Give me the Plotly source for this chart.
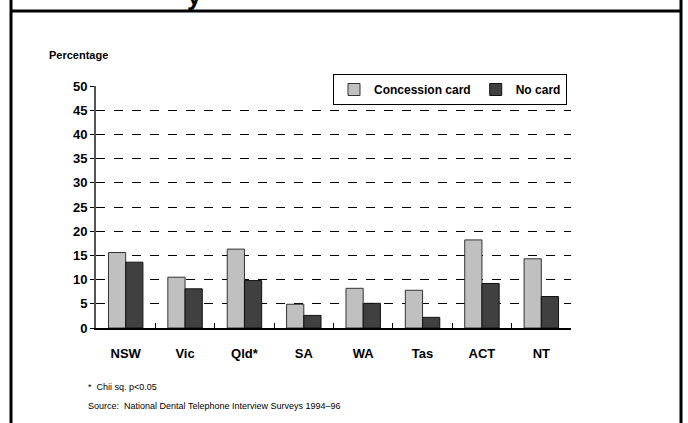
import plotly.graph_objects as go

states = ["NSW", "Vic", "Qld*", "SA", "WA", "Tas", "ACT", "NT"]
concession = [15.6, 10.5, 16.3, 4.9, 8.2, 7.8, 18.2, 14.3]
no_card = [13.6, 8.1, 9.8, 2.6, 5.1, 2.2, 9.2, 6.5]
y_ticks = [0, 5, 10, 15, 20, 25, 30, 35, 40, 45, 50]

W, H = 688, 423
L, R, T, B = 96, 117, 86, 95
pw, ph = W - L - R, H - T - B


def px(x):
    return (x - L) / pw


def py(y):
    return (H - B - y) / ph


font = "Liberation Sans, Arial, sans-serif"

fig = go.Figure()
fig.add_trace(go.Bar(x=states, y=concession, name="Concession card",
                     marker=dict(color="#c0c0c0", line=dict(color="#333333", width=1))))
fig.add_trace(go.Bar(x=states, y=no_card, name="No card",
                     marker=dict(color="#404040", line=dict(color="#111111", width=1))))

# frame around the figure
frame = dict(type="line", xref="paper", yref="paper", line=dict(color="black", width=3))
fig.add_shape(**frame, x0=px(11), x1=px(11), y0=py(H), y1=py(0))
fig.add_shape(**frame, x0=px(681), x1=px(681), y0=py(H), y1=py(0))
fig.add_shape(**frame, x0=px(11), x1=px(681), y0=py(11), y1=py(11))

# bottom of the (cut off) title
fig.add_annotation(text="<b>y</b>", x=px(185), y=py(-21), xref="paper", yref="paper",
                   showarrow=False, font=dict(size=26, color="black", family=font))
fig.add_annotation(text="<b>Percentage</b>", x=px(47), y=py(47), xref="paper", yref="paper",
                   xanchor="left", showarrow=False, font=dict(size=11, color="black", family=font))
fig.add_annotation(text="*  Chii sq. p<0.05", x=px(86), y=py(394), xref="paper", yref="paper",
                   xanchor="left", showarrow=False, font=dict(size=9, color="black", family=font))
fig.add_annotation(text="Source:  National Dental Telephone Interview Surveys 1994\u201396",
                   x=px(86), y=py(413), xref="paper", yref="paper",
                   xanchor="left", showarrow=False, font=dict(size=9, color="black", family=font))

fig.update_layout(
    width=W, height=H,
    margin=dict(l=L, r=R, t=T, b=B, pad=0),
    paper_bgcolor="white", plot_bgcolor="white",
    barmode="group", bargap=0.42, bargroupgap=0,
    font=dict(family=font, color="black"),
    showlegend=True,
    legend=dict(orientation="h", x=px(333), y=py(74), xanchor="left", yanchor="top",
                bgcolor="white", bordercolor="black", borderwidth=1,
                font=dict(size=12, family=font, weight="bold"),
                itemwidth=30, tracegroupgap=0),
    xaxis=dict(showline=True, linecolor="black", linewidth=2,
               ticks="inside", ticklen=5, tickcolor="black", tickson="boundaries",
               tickfont=dict(size=13, weight="bold"), ticklabelstandoff=12,
               showgrid=False),
    yaxis=dict(range=[0, 50], tickvals=y_ticks, showline=True, linecolor="#555555", linewidth=2,
               ticks="outside", ticklen=4, tickcolor="black",
               tickfont=dict(size=13, weight="bold"),
               showgrid=True, gridcolor="black", griddash="dash", gridwidth=1,
               zeroline=False),
)

# page has a default 8px body margin; drop it so the figure fills the window
fig.write_html("out.html", config={"displayModeBar": False},
               post_script="document.body.style.margin='0';")
